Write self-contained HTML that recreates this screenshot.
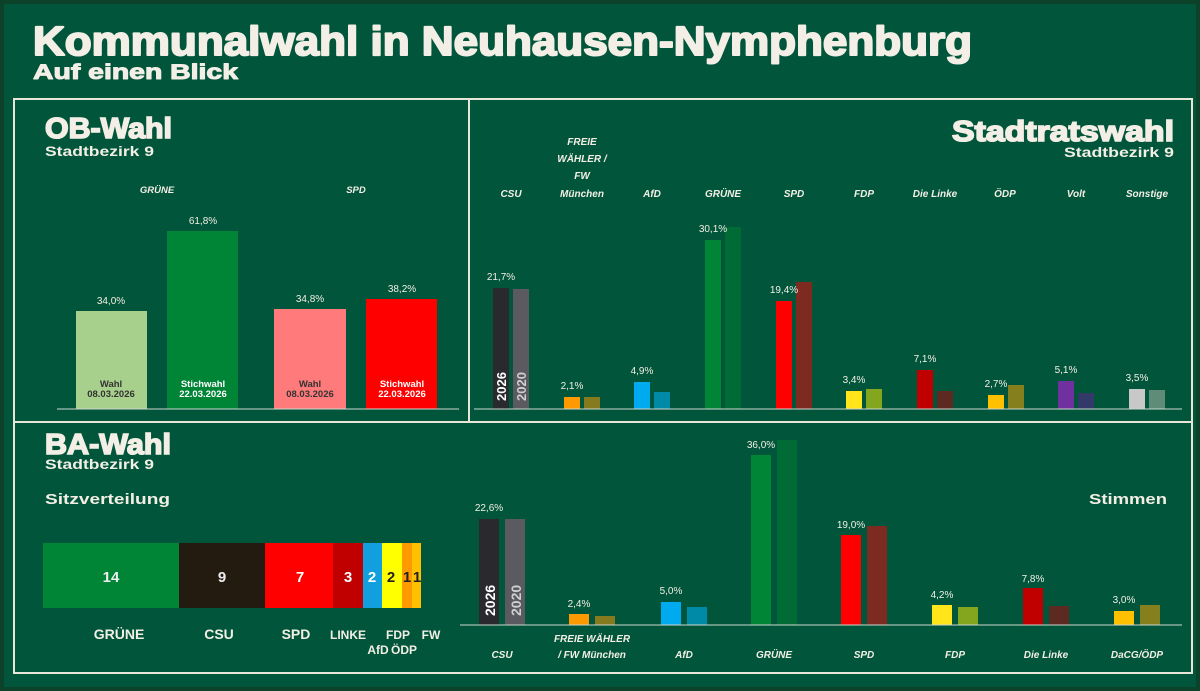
<!DOCTYPE html>
<html><head><meta charset="utf-8"><style>
html,body{margin:0;padding:0;background:#0a4429;}
svg{display:block;font-family:"Liberation Sans",sans-serif;}
</style></head><body>
<svg width="1200" height="691" viewBox="0 0 1200 691" xmlns="http://www.w3.org/2000/svg">
<rect x="0" y="0" width="1200" height="691" fill="#0b4229"/>
<rect x="4" y="4" width="1192" height="683" fill="#00553a"/>
<g fill="#f3efe6" font-weight="bold" stroke="#f3efe6" stroke-linejoin="round">
<text x="33" y="55" font-size="41" stroke-width="2" textLength="939" lengthAdjust="spacingAndGlyphs">Kommunalwahl in Neuhausen-Nymphenburg</text>
<text x="33" y="79" font-size="21" stroke-width="1" textLength="205" lengthAdjust="spacingAndGlyphs">Auf einen Blick</text>
</g>
<g stroke="#e8e6d8" stroke-width="2" fill="none">
<rect x="14" y="99" width="1178" height="574"/>
<line x1="469" y1="99" x2="469" y2="422"/>
<line x1="14" y1="422" x2="1192" y2="422"/>
</g>
<!-- OB-Wahl -->
<g fill="#f3efe6" font-weight="bold">
<text x="45" y="138" font-size="29" stroke="#f3efe6" stroke-width="1.6" textLength="127" lengthAdjust="spacingAndGlyphs">OB-Wahl</text>
<text x="45" y="156" font-size="14" textLength="109" lengthAdjust="spacingAndGlyphs">Stadtbezirk 9</text>
<g font-size="9.5" font-style="italic" text-anchor="middle"><text x="157" y="193">GRÜNE</text><text x="356" y="193">SPD</text></g>
<g font-size="10" text-anchor="middle" font-weight="normal"><text x="111" y="304">34,0%</text><text x="203" y="224">61,8%</text><text x="310" y="302">34,8%</text><text x="402" y="292">38,2%</text></g>
</g>
<rect x="76" y="311" width="71" height="98" fill="#a8d08d"/>
<rect x="167" y="231" width="71" height="178" fill="#008537"/>
<rect x="274" y="309" width="72" height="100" fill="#ff7a7a"/>
<rect x="366" y="299" width="71" height="110" fill="#ff0000"/>
<line x1="57" y1="409" x2="459" y2="409" stroke="#cfd8d0" stroke-width="1"/>
<g font-size="9.5" font-weight="bold" text-anchor="middle">
<text x="111" y="387" fill="#333">Wahl</text><text x="111" y="397" fill="#333">08.03.2026</text>
<text x="203" y="387" fill="#fff">Stichwahl</text><text x="203" y="397" fill="#fff">22.03.2026</text>
<text x="310" y="387" fill="#333">Wahl</text><text x="310" y="397" fill="#333">08.03.2026</text>
<text x="402" y="387" fill="#fff">Stichwahl</text><text x="402" y="397" fill="#fff">22.03.2026</text>
</g>
<!-- Stadtratswahl -->
<g fill="#f3efe6" font-weight="bold" text-anchor="end">
<text x="1174" y="141" font-size="29" stroke="#f3efe6" stroke-width="1.6" textLength="222" lengthAdjust="spacingAndGlyphs">Stadtratswahl</text>
<text x="1174" y="157" font-size="14" textLength="110" lengthAdjust="spacingAndGlyphs">Stadtbezirk 9</text>
</g>
<g>
<rect x="493" y="288" width="16" height="121" fill="#2a2a2e"/><rect x="513" y="289" width="16" height="120" fill="#5a5a60"/>
<rect x="564" y="397" width="16" height="12" fill="#ff9900"/><rect x="584" y="397" width="16" height="12" fill="#857a1e"/>
<rect x="634" y="382" width="16" height="27" fill="#00aaee"/><rect x="654" y="392" width="16" height="17" fill="#008aa8"/>
<rect x="705" y="240" width="16" height="169" fill="#008537"/><rect x="725" y="227" width="16" height="182" fill="#006b35"/>
<rect x="776" y="301" width="16" height="108" fill="#ff0000"/><rect x="796" y="282" width="16" height="127" fill="#7d2a20"/>
<rect x="846" y="391" width="16" height="18" fill="#ffe51a"/><rect x="866" y="389" width="16" height="20" fill="#84a61e"/>
<rect x="917" y="370" width="16" height="39" fill="#c00000"/><rect x="937" y="391" width="16" height="18" fill="#5c2a20"/>
<rect x="988" y="395" width="16" height="14" fill="#ffc000"/><rect x="1008" y="385" width="16" height="24" fill="#857f1e"/>
<rect x="1058" y="381" width="16" height="28" fill="#7030a0"/><rect x="1078" y="393" width="16" height="16" fill="#333a6a"/>
<rect x="1129" y="389" width="16" height="20" fill="#c8c8c8"/><rect x="1149" y="390" width="16" height="19" fill="#5e8c78"/>
</g>
<line x1="474" y1="409" x2="1182" y2="409" stroke="#cfd8d0" stroke-width="1"/>
<g font-size="13" font-weight="bold">
<text transform="translate(506,401) rotate(-90)" fill="#fff">2026</text>
<text transform="translate(526,401) rotate(-90)" fill="#cfcfcf">2020</text>
</g>
<g fill="#f3efe6" font-size="10" text-anchor="middle">
<text x="501" y="280">21,7%</text><text x="572" y="389">2,1%</text><text x="642" y="374">4,9%</text><text x="713" y="232">30,1%</text><text x="784" y="293">19,4%</text><text x="854" y="383">3,4%</text><text x="925" y="362">7,1%</text><text x="996" y="387">2,7%</text><text x="1066" y="373">5,1%</text><text x="1137" y="381">3,5%</text>
</g>
<g fill="#f3efe6" font-size="10" font-weight="bold" font-style="italic" text-anchor="middle">
<text x="511" y="197">CSU</text>
<text x="582" y="145">FREIE</text><text x="582" y="162">WÄHLER /</text><text x="582" y="179">FW</text><text x="582" y="197">München</text>
<text x="652" y="197">AfD</text><text x="723" y="197">GRÜNE</text><text x="794" y="197">SPD</text><text x="864" y="197">FDP</text><text x="935" y="197">Die Linke</text><text x="1005" y="197">ÖDP</text><text x="1076" y="197">Volt</text><text x="1147" y="197">Sonstige</text>
</g>
<!-- BA-Wahl -->
<g fill="#f3efe6" font-weight="bold">
<text x="45" y="454" font-size="29" stroke="#f3efe6" stroke-width="1.6" textLength="126" lengthAdjust="spacingAndGlyphs">BA-Wahl</text>
<text x="45" y="469" font-size="14" textLength="109" lengthAdjust="spacingAndGlyphs">Stadtbezirk 9</text>
<text x="45" y="504" font-size="15" textLength="125" lengthAdjust="spacingAndGlyphs">Sitzverteilung</text>
<text x="1167" y="504" font-size="15" text-anchor="end" textLength="78" lengthAdjust="spacingAndGlyphs">Stimmen</text>
</g>
<rect x="43" y="543" width="136" height="65" fill="#008537"/>
<rect x="179" y="543" width="86" height="65" fill="#231a10"/>
<rect x="265" y="543" width="68" height="65" fill="#ff0000"/>
<rect x="333" y="543" width="30" height="65" fill="#c00000"/>
<rect x="363" y="543" width="19" height="65" fill="#11a0dd"/>
<rect x="382" y="543" width="20" height="65" fill="#ffff00"/>
<rect x="402" y="543" width="10" height="65" fill="#ff9900"/>
<rect x="412" y="543" width="9" height="65" fill="#ffc000"/>
<g font-size="15" font-weight="bold" text-anchor="middle">
<text x="111" y="582" fill="#eee">14</text><text x="222" y="582" fill="#eee">9</text><text x="300" y="582" fill="#fff">7</text><text x="348" y="582" fill="#fff">3</text><text x="372" y="582" fill="#fff">2</text><text x="391" y="582" fill="#222">2</text><text x="407" y="582" fill="#222">1</text><text x="417" y="582" fill="#222">1</text>
</g>
<g fill="#f3efe6" font-weight="bold" text-anchor="middle">
<g font-size="14"><text x="119" y="639">GRÜNE</text><text x="219" y="639">CSU</text><text x="296" y="639">SPD</text></g>
<g font-size="12"><text x="348" y="639">LINKE</text><text x="398" y="639">FDP</text><text x="431" y="639">FW</text><text x="378" y="654">AfD</text><text x="404" y="654">ÖDP</text></g>
</g>
<g>
<rect x="479" y="519" width="20" height="106" fill="#2a2a2e"/><rect x="505" y="519" width="20" height="106" fill="#5a5a60"/>
<rect x="569" y="614" width="20" height="11" fill="#ff9900"/><rect x="595" y="616" width="20" height="9" fill="#857a1e"/>
<rect x="661" y="602" width="20" height="23" fill="#00aaee"/><rect x="687" y="607" width="20" height="18" fill="#008aa8"/>
<rect x="751" y="455" width="20" height="170" fill="#008537"/><rect x="777" y="440" width="20" height="185" fill="#006b35"/>
<rect x="841" y="535" width="20" height="90" fill="#ff0000"/><rect x="867" y="526" width="20" height="99" fill="#7d2a20"/>
<rect x="932" y="605" width="20" height="20" fill="#ffe51a"/><rect x="958" y="607" width="20" height="18" fill="#84a61e"/>
<rect x="1023" y="588" width="20" height="37" fill="#c00000"/><rect x="1049" y="606" width="20" height="19" fill="#5c2a20"/>
<rect x="1114" y="611" width="20" height="14" fill="#ffc000"/><rect x="1140" y="605" width="20" height="20" fill="#857f1e"/>
</g>
<line x1="460" y1="625" x2="1182" y2="625" stroke="#cfd8d0" stroke-width="1"/>
<g font-size="14" font-weight="bold">
<text transform="translate(495,616) rotate(-90)" fill="#fff">2026</text>
<text transform="translate(521,616) rotate(-90)" fill="#cfcfcf">2020</text>
</g>
<g fill="#f3efe6" font-size="10" text-anchor="middle">
<text x="489" y="511">22,6%</text><text x="579" y="607">2,4%</text><text x="671" y="594">5,0%</text><text x="761" y="448">36,0%</text><text x="851" y="528">19,0%</text><text x="942" y="598">4,2%</text><text x="1033" y="582">7,8%</text><text x="1124" y="603">3,0%</text>
</g>
<g fill="#f3efe6" font-size="10" font-weight="bold" font-style="italic" text-anchor="middle">
<text x="502" y="658">CSU</text>
<text x="592" y="642">FREIE WÄHLER</text><text x="592" y="658">/ FW München</text>
<text x="684" y="658">AfD</text><text x="774" y="658">GRÜNE</text><text x="864" y="658">SPD</text><text x="955" y="658">FDP</text><text x="1046" y="658">Die Linke</text><text x="1137" y="658">DaCG/ÖDP</text>
</g>
</svg>
</body></html>
